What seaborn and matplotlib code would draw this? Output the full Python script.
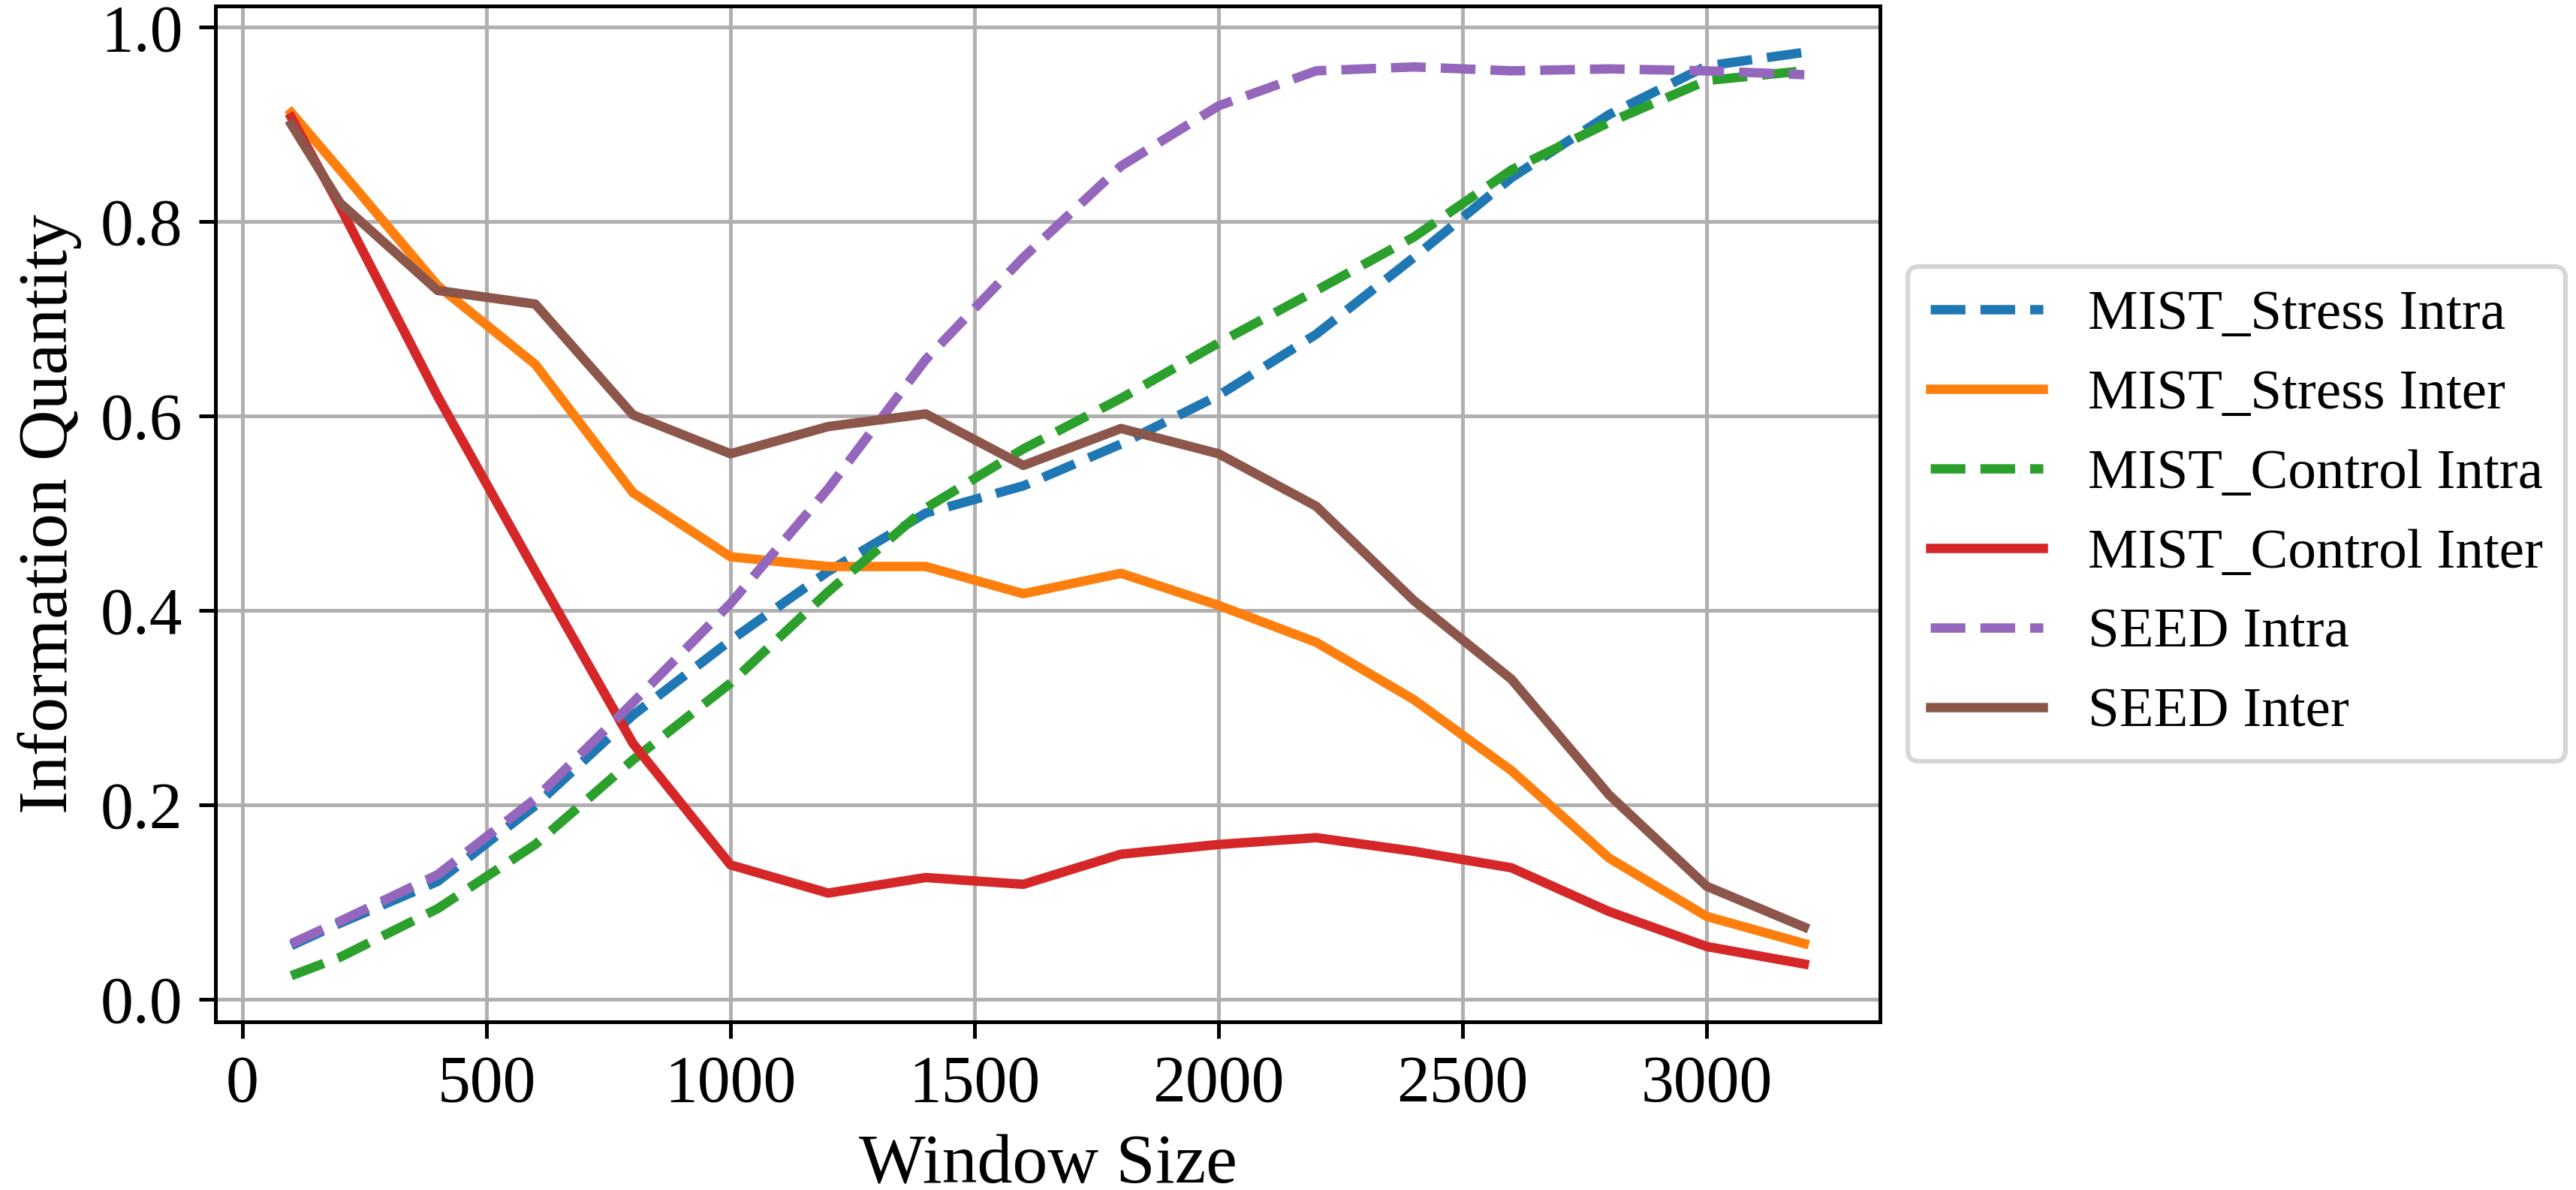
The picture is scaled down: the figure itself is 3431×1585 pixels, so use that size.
import pandas as pd
import seaborn as sns
import matplotlib.pyplot as plt

plt.rcParams['font.family'] = ['Liberation Serif', 'DejaVu Serif']

# window sizes
window = [100, 200, 400, 600, 800, 1000, 1200, 1400, 1600, 1800, 2000,
          2200, 2400, 2600, 2800, 3000, 3200]

# information quantity per series
mist_stress_intra = [0.055, 0.078, 0.121, 0.199, 0.292, 0.369, 0.440, 0.500, 0.528,
                     0.571, 0.621, 0.684, 0.763, 0.845, 0.910, 0.960, 0.974]
mist_stress_inter = [0.912, 0.853, 0.734, 0.653, 0.521, 0.455, 0.445, 0.445, 0.417,
                     0.438, 0.405, 0.367, 0.308, 0.235, 0.145, 0.085, 0.057]
mist_control_intra = [0.024, 0.043, 0.093, 0.159, 0.246, 0.325, 0.419, 0.505, 0.566,
                      0.618, 0.675, 0.729, 0.784, 0.853, 0.902, 0.945, 0.955]
mist_control_inter = [0.907, 0.815, 0.620, 0.440, 0.263, 0.138, 0.109, 0.125, 0.118,
                      0.149, 0.159, 0.166, 0.152, 0.135, 0.090, 0.054, 0.036]
seed_intra = [0.057, 0.080, 0.128, 0.206, 0.305, 0.407, 0.525, 0.658, 0.763,
              0.857, 0.919, 0.955, 0.959, 0.955, 0.957, 0.955, 0.951]
seed_inter = [0.900, 0.819, 0.729, 0.715, 0.601, 0.561, 0.589, 0.602, 0.549,
              0.587, 0.561, 0.507, 0.410, 0.329, 0.210, 0.116, 0.074]

series = [
    ("MIST_Stress Intra", mist_stress_intra, "--"),
    ("MIST_Stress Inter", mist_stress_inter, "-"),
    ("MIST_Control Intra", mist_control_intra, "--"),
    ("MIST_Control Inter", mist_control_inter, "-"),
    ("SEED Intra", seed_intra, "--"),
    ("SEED Inter", seed_inter, "-"),
]
colors = sns.color_palette("tab10", 6)

fig = plt.figure(figsize=(3431 / 450, 1585 / 450), dpi=450)
ax = fig.add_axes([0.0837, 0.1413, 0.6461, 0.8535])

for (name, vals, ls), c in zip(series, colors):
    df = pd.DataFrame({"Window Size": window, "Information Quantity": vals})
    sns.lineplot(data=df, x="Window Size", y="Information Quantity", ax=ax,
                 label=name, color=c, linestyle=ls, linewidth=2, errorbar=None)

ax.grid(True)
ax.set_xlabel("Window Size", fontsize=15)
ax.set_ylabel("Information Quantity", fontsize=15)
ax.tick_params(labelsize=14)
ax.legend(loc="center left", bbox_to_anchor=(1.0, 0.5), fontsize=12)

fig.savefig("out.png", dpi=450)
